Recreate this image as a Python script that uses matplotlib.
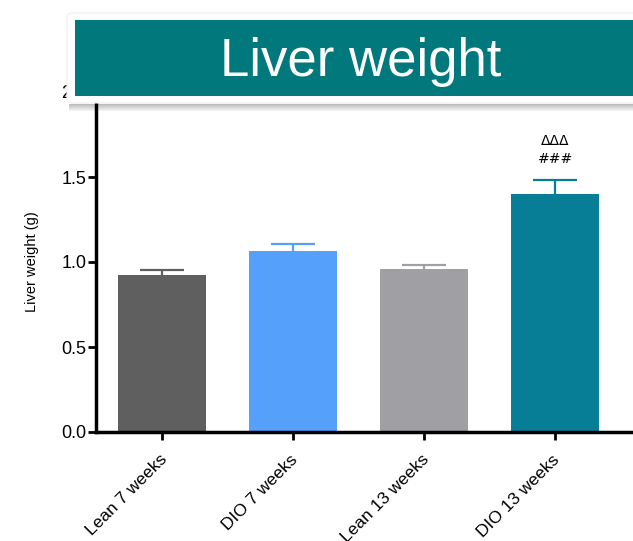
import matplotlib
matplotlib.use("Agg")
import matplotlib.pyplot as plt
from matplotlib.patches import Rectangle, FancyBboxPatch
from matplotlib.transforms import ScaledTranslation

# data
groups = ["Lean 7 weeks", "DIO 7 weeks", "Lean 13 weeks", "DIO 13 weeks"]
means = [0.925, 1.065, 0.958, 1.40]
sem = [0.028, 0.040, 0.022, 0.082]
colors = ["#5f5f5f", "#55a0fb", "#a0a0a4", "#087d96"]
sig_labels = ["", "", "", "ΔΔΔ\n###"]

plt.rcParams['font.family'] = ['Liberation Sans', 'DejaVu Sans']

fig = plt.figure(figsize=(6.33, 5.41), dpi=100)
ax = fig.add_axes([96 / 633, 109 / 541, 537 / 633, 340 / 541])

x = range(len(groups))
ax.bar(x, means, width=0.672, color=colors, zorder=2)
for i, (m, s, c) in enumerate(zip(means, sem, colors)):
    # symmetric bars, lower half hidden behind the bar
    ax.errorbar(i, m, yerr=s, color=c, capsize=16, capthick=1.6,
                elinewidth=1.6, zorder=1)
    if sig_labels[i]:
        ax.text(i, m + s + 0.085, sig_labels[i], ha="center", va="bottom",
                fontsize=10, linespacing=1.35, family=['DejaVu Sans'])

ax.set_xlim(-0.504, 3.595)
ax.set_ylim(0, 2.0)
ax.set_yticks([0, 0.5, 1.0, 1.5, 2.0])
ax.set_yticklabels(["0.0", "0.5", "1.0", "1.5", "2.0"])
ax.set_xticks(list(x))
ax.set_xticklabels([])
# rotated category labels, slightly left of their ticks
lab_tr = ax.get_xaxis_transform() + ScaledTranslation(-0.03, -0.20,
                                                      fig.dpi_scale_trans)
for i, g in enumerate(groups):
    ax.text(i, 0, g, transform=lab_tr, rotation=45, ha="right", va="top",
            rotation_mode="anchor", fontsize=12.5)
ax.tick_params(axis="both", width=2, length=6, labelsize=13)
ax.tick_params(axis="y", pad=1)
ax.set_ylabel("Liver weight (g)", fontsize=10.5, labelpad=16)
for side in ["top", "right"]:
    ax.spines[side].set_visible(False)
for side in ["left", "bottom"]:
    ax.spines[side].set_linewidth(2.5)
ax.spines["left"].set_bounds(0, 2.05)
ax.spines["bottom"].set_bounds(-0.504, 3.7)

# title box on top of the chart, with a soft shadow
W, H = 633, 541
for k in range(7):
    fig.patches.append(Rectangle((69 / W, (H - 111 + k) / H), 600 / W, 1 / H,
                                 transform=fig.transFigure, color="black",
                                 alpha=0.05 + 0.035 * k, lw=0, zorder=5))
fig.patches.append(FancyBboxPatch((67 / W, (H - 103) / H), 600 / W, 90 / H,
                                  boxstyle="round,pad=0,rounding_size=0.008",
                                  transform=fig.transFigure, fc="white",
                                  ec="#eeeeee", lw=0.8, zorder=6))
fig.patches.append(Rectangle((75 / W, (H - 96) / H), 575 / W, 76 / H,
                             transform=fig.transFigure, color="#00787c",
                             lw=0, zorder=7))
fig.text(361 / W, (H - 62) / H, "Liver weight", color="white", fontsize=38,
         ha="center", va="center", zorder=8)

fig.savefig("out.png", dpi=100)
